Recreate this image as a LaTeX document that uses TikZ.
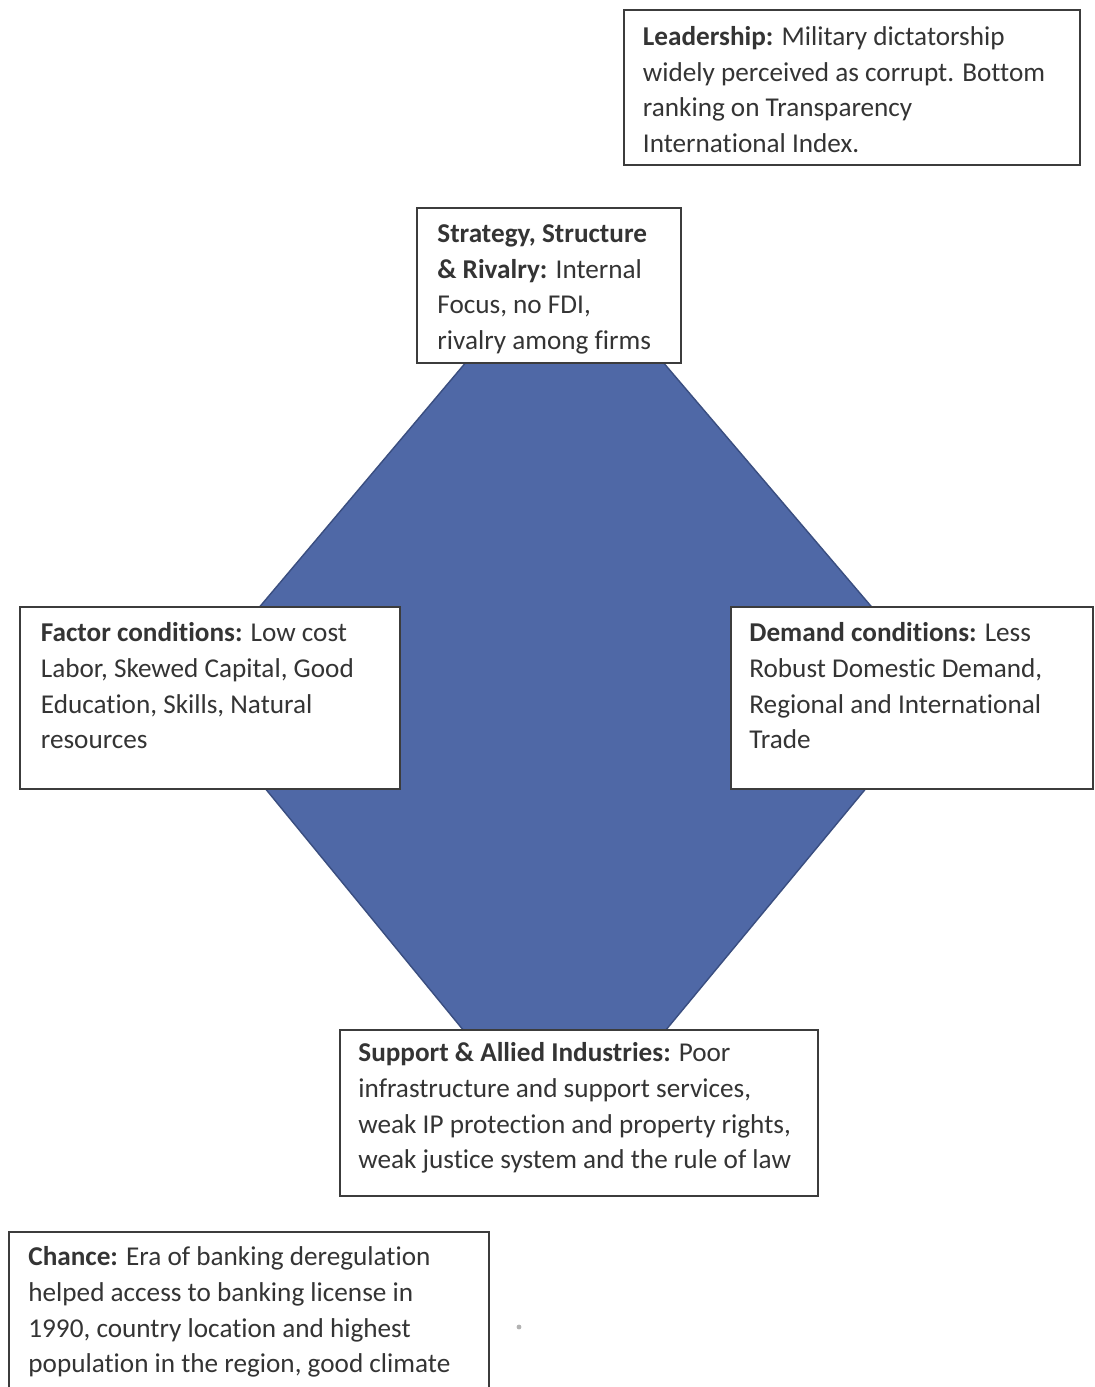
\documentclass[tikz,border=0pt]{standalone}
\usepackage{fontspec}
\setmainfont{Carlito}[Ligatures=NoCommon, RawFeature={-liga;-clig;-calt;-dlig}]
\usetikzlibrary{fit,calc}

\definecolor{diamondfill}{RGB}{79,104,166}
\definecolor{diamondedge}{RGB}{58,78,128}
\definecolor{boxedge}{RGB}{60,60,60}
\definecolor{ink}{RGB}{52,52,52}
% strut that fixes the height of each text block's first line
\newcommand\firstline{\rule{0pt}{12pt}}

\begin{document}
\begin{tikzpicture}[x=0.5pt,y=-0.5pt,
  infobox/.style={draw=boxedge, line width=1pt, fill=white, inner sep=0pt},
  boxtext/.style={anchor=north west, inner sep=0pt, align=left, text=ink,
    font=\fontsize{13.6pt}{17.8pt}\selectfont},
]
\clip (0,0) rectangle (1094,1387);
\fill[white] (0,0) rectangle (1094,1387);

% the diamond behind the four determinants
\coordinate (dT) at (564,246);
\coordinate (dR) at (945,693);
\coordinate (dB) at (564,1153);
\coordinate (dL) at (187,693);
\draw[fill=diamondfill, draw=diamondedge, line width=0.7pt] (dT) -- (dR) -- (dB) -- (dL) -- cycle;

% boxes
\node[infobox, fit={(624,10) (1080,165)}] (lead) {};
\node[infobox, fit={(417,208) (681,363)}] (strat) {};
\node[infobox, fit={(20,607) (400,789)}] (factor) {};
\node[infobox, fit={(731,607) (1093,789)}] (demand) {};
\node[infobox, fit={(340,1030) (818,1196)}] (support) {};
\node[infobox, fit={(9,1232) (489,1400)}] (chance) {};

% texts
\node[boxtext] (leadtext) at (642.5,21) {\firstline\textbf{Leadership:} Military dictatorship\\
widely perceived as corrupt. Bottom\\ranking on Transparency\\International Index.};
\node[boxtext] (strattext) at (437,218) {\firstline\textbf{Strategy, Structure}\\
\textbf{\& Rivalry:} Internal\\Focus, no FDI,\\rivalry among firms};
\node[boxtext] (factortext) at (40.5,617.5) {\firstline\textbf{Factor conditions:} Low cost\\
Labor, Skewed Capital, Good\\Education, Skills, Natural\\resources};
\node[boxtext] (demandtext) at (749,617.5) {\firstline\textbf{Demand conditions:} Less\\
Robust Domestic Demand,\\Regional and International\\Trade};
\node[boxtext] (supporttext) at (358,1037.5) {\firstline\textbf{Support \& Allied Industries:} Poor\\
infrastructure and support services,\\weak IP protection and property rights,\\weak justice system and the rule of law};
\node[boxtext] (chancetext) at (28,1241.5) {\firstline\textbf{Chance:} Era of banking deregulation\\
helped access to banking license in\\1990, country location and highest\\population in the region, good climate};

% small speck beside the chance box
\fill[gray!60] (519,1327) circle (1.2pt);
\end{tikzpicture}
\end{document}
